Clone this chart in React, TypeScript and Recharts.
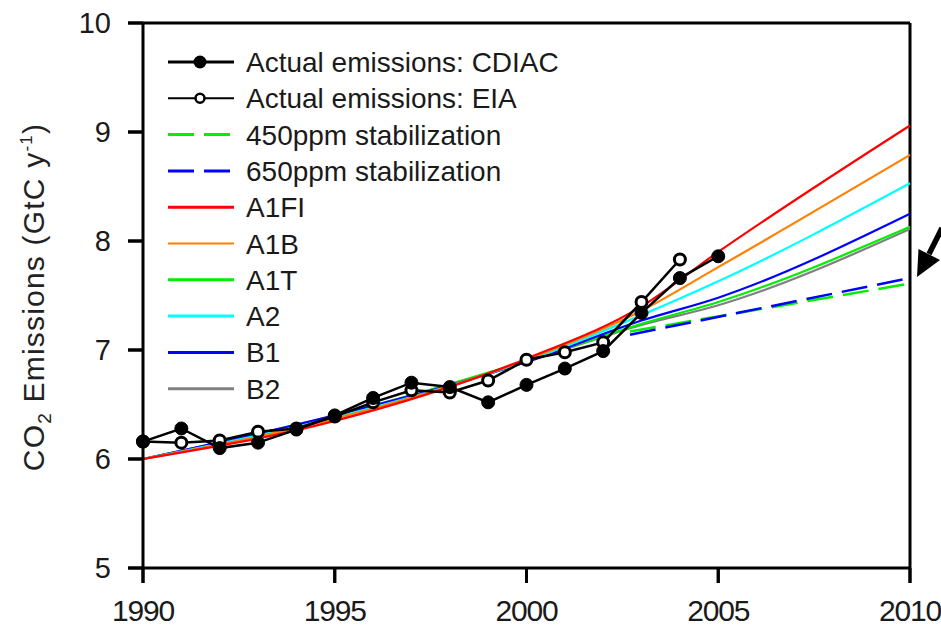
import React from 'react';
import { LineChart, Line, XAxis, YAxis, ReferenceLine } from 'recharts';

// ---- Data ----
const cdiacYears = [1990, 1991, 1992, 1993, 1994, 1995, 1996, 1997, 1998, 1999, 2000, 2001, 2002, 2003, 2004, 2005];
const cdiacValues = [6.16, 6.28, 6.10, 6.15, 6.27, 6.40, 6.56, 6.70, 6.66, 6.52, 6.68, 6.83, 6.99, 7.34, 7.66, 7.86];

const eiaYears = [1990, 1991, 1992, 1993, 1994, 1995, 1996, 1997, 1998, 1999, 2000, 2001, 2002, 2003, 2004];
const eiaValues = [6.16, 6.15, 6.17, 6.25, 6.28, 6.39, 6.52, 6.63, 6.61, 6.72, 6.91, 6.98, 7.07, 7.44, 7.83];

const scenarioYears = [1990, 1995, 2000, 2003, 2005, 2010];
const a1fiValues = [6.0, 6.35, 6.92, 7.40, 7.90, 9.06];
const a1bValues = [6.0, 6.37, 6.91, 7.36, 7.76, 8.79];
const a1tValues = [6.0, 6.39, 6.90, 7.24, 7.44, 8.13];
const a2Values = [6.0, 6.38, 6.90, 7.32, 7.63, 8.53];
const b1Values = [6.0, 6.40, 6.89, 7.27, 7.48, 8.25];
const b2Values = [6.0, 6.40, 6.89, 7.23, 7.41, 8.11];

const stabYears = [2002.7, 2010];
const s450Values = [7.17, 7.61];
const s650Values = [7.14, 7.66];

const xTicks = [1990, 1995, 2000, 2005, 2010];
const yTicks = [5, 6, 7, 8, 9, 10];

const legendLabels = [
  'Actual emissions: CDIAC',
  'Actual emissions: EIA',
  '450ppm stabilization',
  '650ppm stabilization',
  'A1FI',
  'A1B',
  'A1T',
  'A2',
  'B1',
  'B2',
];

const toPoints = (years: number[], values: number[]) =>
  years.map((year, i) => ({ year, v: values[i] }));

const FONT = '"Liberation Sans", Arial, Helvetica, sans-serif';
const TEXT = '#1a1a1a';
const TICK_SIZE = 15;
const TICK_MARGIN = 17;

const scenarioSeries = [
  { name: 'B2', data: toPoints(scenarioYears, b2Values), color: '#808080' },
  { name: 'A1T', data: toPoints(scenarioYears, a1tValues), color: '#00ee00' },
  { name: 'B1', data: toPoints(scenarioYears, b1Values), color: '#0000ff' },
  { name: 'A2', data: toPoints(scenarioYears, a2Values), color: '#00ffff' },
  { name: 'A1B', data: toPoints(scenarioYears, a1bValues), color: '#ff8000' },
  { name: 'A1FI', data: toPoints(scenarioYears, a1fiValues), color: '#ff0000' },
];

const legendStyles = [
  { color: '#000', dash: undefined, marker: 'filled', width: 3 },
  { color: '#000', dash: undefined, marker: 'open', width: 2 },
  { color: '#00ee00', dash: '26 10', marker: null, width: 3 },
  { color: '#0000ff', dash: '26 10', marker: null, width: 3 },
  { color: '#ff0000', dash: undefined, marker: null, width: 3 },
  { color: '#ff8000', dash: undefined, marker: null, width: 2 },
  { color: '#00ee00', dash: undefined, marker: null, width: 3 },
  { color: '#00ffff', dash: undefined, marker: null, width: 3 },
  { color: '#0000ff', dash: undefined, marker: null, width: 3 },
  { color: '#808080', dash: undefined, marker: null, width: 3 },
];

const XTick = (props: any) => {
  const { x, y, payload } = props;
  const axisY = y - TICK_MARGIN - TICK_SIZE;
  return (
    <g>
      <line x1={x} x2={x} y1={axisY} y2={axisY + TICK_SIZE} stroke="#000" strokeWidth={3} />
      <text x={x} y={y} dy="0.71em" textAnchor="middle" fontSize={30} fontFamily={FONT} fill={TEXT} letterSpacing={-1.2}>
        {payload.value}
      </text>
    </g>
  );
};

const YTick = (props: any) => {
  const { x, y, payload } = props;
  const axisX = x + TICK_MARGIN + TICK_SIZE;
  return (
    <g>
      <line x1={axisX - TICK_SIZE} x2={axisX} y1={y} y2={y} stroke="#000" strokeWidth={3} />
      <text x={x} y={y} dy="0.355em" textAnchor="end" fontSize={29} fontFamily={FONT} fill={TEXT}>
        {payload.value}
      </text>
    </g>
  );
};

const FilledDot = (props: any) => {
  const { cx, cy } = props;
  if (cx == null || cy == null) return null;
  return <circle cx={cx} cy={cy} r={6.5} fill="#000" stroke="#000" strokeWidth={1} />;
};

const OpenDot = (props: any) => {
  const { cx, cy } = props;
  if (cx == null || cy == null) return null;
  return <circle cx={cx} cy={cy} r={5.5} fill="#fff" stroke="#000" strokeWidth={3} />;
};

export default function App() {
  const legendX0 = 168;
  const legendX1 = 234;
  const legendTextX = 246;
  const legendY0 = 62;
  const legendStep = 36.3;

  return (
    <div style={{ position: 'absolute', left: 0, top: 0, width: 941, height: 626, background: '#fff' }}>
      <LineChart width={941} height={626} margin={{ top: 23, right: 31, bottom: 0, left: 83 }}>
        <XAxis
          dataKey="year"
          type="number"
          domain={[1990, 2010]}
          ticks={xTicks}
          allowDuplicatedCategory={false}
          height={58}
          tickSize={TICK_SIZE}
          tickMargin={TICK_MARGIN}
          axisLine={{ stroke: '#000', strokeWidth: 3 }}
          tickLine={{ stroke: '#000', strokeWidth: 3 }}
          tick={<XTick />}
          interval={0}
        />
        <YAxis
          type="number"
          domain={[5, 10]}
          ticks={yTicks}
          width={60}
          tickSize={TICK_SIZE}
          tickMargin={TICK_MARGIN}
          axisLine={{ stroke: '#000', strokeWidth: 3 }}
          tickLine={{ stroke: '#000', strokeWidth: 3 }}
          tick={<YTick />}
          interval={0}
        />
        <ReferenceLine y={10} stroke="#000" strokeWidth={3} />
        <ReferenceLine x={2010} stroke="#000" strokeWidth={3} />
        {scenarioSeries.map((s) => (
          <Line
            key={s.name}
            data={s.data}
            dataKey="v"
            type="monotone"
            stroke={s.color}
            strokeWidth={2.2}
            dot={false}
            isAnimationActive={false}
          />
        ))}
        <Line
          data={toPoints(stabYears, s450Values)}
          dataKey="v"
          type="linear"
          stroke="#00ee00"
          strokeWidth={2.5}
          strokeDasharray="26 10"
          dot={false}
          isAnimationActive={false}
        />
        <Line
          data={toPoints(stabYears, s650Values)}
          dataKey="v"
          type="linear"
          stroke="#0000ff"
          strokeWidth={2.5}
          strokeDasharray="26 10"
          dot={false}
          isAnimationActive={false}
        />
        <Line
          data={toPoints(eiaYears, eiaValues)}
          dataKey="v"
          type="linear"
          stroke="#000"
          strokeWidth={2.5}
          dot={<OpenDot />}
          isAnimationActive={false}
        />
        <Line
          data={toPoints(cdiacYears, cdiacValues)}
          dataKey="v"
          type="linear"
          stroke="#000"
          strokeWidth={2.5}
          dot={<FilledDot />}
          isAnimationActive={false}
        />
      </LineChart>
      <svg
        width={941}
        height={626}
        style={{ position: 'absolute', left: 0, top: 0, pointerEvents: 'none' }}
      >
        {legendLabels.map((label, i) => {
          const st = legendStyles[i];
          const cy = legendY0 + i * legendStep;
          return (
            <g key={label}>
              <line
                x1={legendX0}
                x2={legendX1}
                y1={cy}
                y2={cy}
                stroke={st.color}
                strokeWidth={st.width}
                strokeDasharray={st.dash}
              />
              {st.marker === 'filled' && <circle cx={200} cy={cy} r={6.5} fill="#000" />}
              {st.marker === 'open' && <circle cx={200} cy={cy} r={4.5} fill="#fff" stroke="#000" strokeWidth={2.5} />}
              <text x={legendTextX} y={cy + 10} fontSize={28} fontFamily={FONT} fill={TEXT}>
                {label}
              </text>
            </g>
          );
        })}
        <text
          x={44}
          y={297}
          transform="rotate(-90, 44, 297)"
          textAnchor="middle"
          fontSize={30}
          fontFamily={FONT}
          fill="#222"
          letterSpacing={1.2}
        >
          CO<tspan fontSize={19} dy={7}>2</tspan>
          <tspan dy={-7}> Emissions (GtC y</tspan>
          <tspan fontSize={17} dy={-12}>-1</tspan>
          <tspan dy={12}>)</tspan>
        </text>
        <line x1={942} y1={228} x2={929} y2={254} stroke="#000" strokeWidth={5.5} />
        <polygon points="917,277 918.5,249 940,260" fill="#000" />
      </svg>
    </div>
  );
}
